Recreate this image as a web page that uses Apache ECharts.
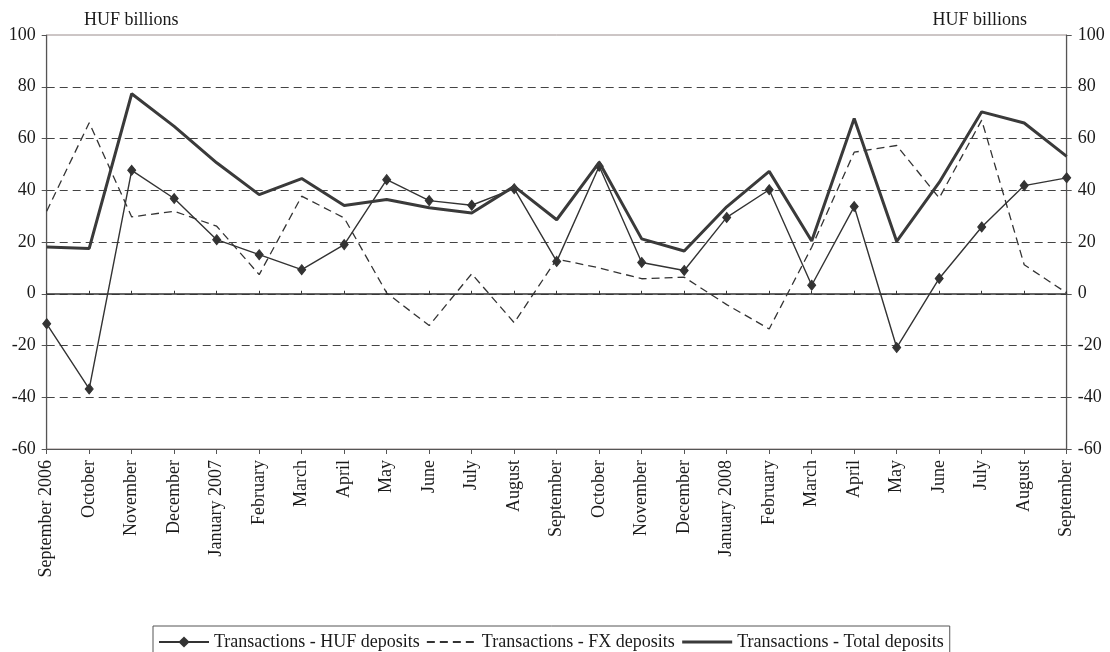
<!DOCTYPE html>
<html>
<head>
<meta charset="utf-8">
<script src="https://cdn.jsdelivr.net/npm/echarts@6/dist/echarts.min.js"></script>
<style>
html,body{margin:0;padding:0;background:#fff;}
#chart{width:1110px;height:652px;}
</style>
</head>
<body>
<div id="chart"></div>
<script>
const categories = ['September 2006','October','November','December','January 2007','February','March','April','May','June','July','August','September','October','November','December','January 2008','February','March','April','May','June','July','August','September'];
const hufDeposits = [-11.6, -36.8, 47.7, 36.8, 20.9, 15.1, 9.3, 19.0, 44.1, 36.0, 34.2, 40.6, 12.5, 49.3, 12.1, 9.0, 29.5, 40.2, 3.3, 33.7, -20.8, 5.9, 25.8, 41.8, 44.8];
const fxDeposits = [31.9, 66.1, 29.7, 31.9, 26.1, 7.4, 37.7, 29.3, 0.3, -12.3, 7.7, -11.2, 13.4, 10.0, 5.8, 6.4, -4.2, -13.6, 18.0, 54.7, 57.3, 37.0, 67.1, 11.2, 0.3];
const totalDeposits = [18.1, 17.5, 77.3, 64.7, 50.6, 38.3, 44.5, 34.1, 36.4, 33.2, 31.2, 41.5, 28.6, 50.8, 21.2, 16.5, 33.6, 47.3, 20.4, 67.7, 20.2, 43.0, 70.3, 66.0, 53.1];
const seriesNames = ['Transactions - HUF deposits', 'Transactions - FX deposits', 'Transactions - Total deposits'];
const unitLabel = 'HUF billions';

const FONT = "'Liberation Serif', 'Times New Roman', serif";
const TXT = '#1a1a1a';
const chart = echarts.init(document.getElementById('chart'), null, {renderer: 'canvas'});

const yAxisBase = {
  type: 'value', min: -60, max: 100, interval: 20,
  axisLine: {show: true, lineStyle: {color: '#555', width: 1.2}},
  axisTick: {show: true, length: 5, lineStyle: {color: '#555'}},
  axisLabel: {color: TXT, fontFamily: FONT, fontSize: 18, margin: 11}
};
const NOSYM = {color: 'rgba(0,0,0,0)', borderColor: 'rgba(0,0,0,0)', borderWidth: 0};

chart.setOption({
  animation: false,
  backgroundColor: '#fff',
  title: [
    {text: unitLabel, left: 79, top: 6, textStyle: {fontFamily: FONT, fontSize: 18, fontWeight: 'normal', color: TXT}},
    {text: unitLabel, right: 78, top: 6, textStyle: {fontFamily: FONT, fontSize: 18, fontWeight: 'normal', color: TXT}}
  ],
  grid: {left: 46.7, right: 43.3, top: 35, bottom: 203, show: true, borderColor: '#9a8c8c', borderWidth: 1, backgroundColor: 'transparent'},
  legend: {
    left: 153, top: 626,
    data: [
      {name: seriesNames[0]},
      {name: seriesNames[1], itemStyle: NOSYM},
      {name: seriesNames[2], itemStyle: NOSYM, lineStyle: {width: 3}}
    ],
    itemWidth: 50, itemHeight: 14, itemGap: 6,
    borderColor: '#555', borderWidth: 1,
    padding: [7, 6, 12, 5],
    textStyle: {fontFamily: FONT, fontSize: 18, color: TXT}
  },
  xAxis: [
    {
      type: 'category', data: categories, boundaryGap: false, position: 'bottom',
      axisLine: {onZero: false, lineStyle: {color: '#555', width: 1.2}},
      axisTick: {show: true, length: 5, interval: 0, lineStyle: {color: '#555'}},
      axisLabel: {rotate: 90, interval: 0, color: TXT, fontFamily: FONT, fontSize: 18, margin: 11},
      splitLine: {show: false}
    },
    {
      type: 'category', data: categories, boundaryGap: false, position: 'top',
      axisLine: {onZero: true, onZeroAxisIndex: 0, lineStyle: {color: '#333', width: 1.5}},
      axisTick: {show: true, length: 3, interval: 0, lineStyle: {color: '#333'}},
      axisLabel: {show: false},
      splitLine: {show: false}
    }
  ],
  yAxis: [
    Object.assign({}, yAxisBase, {
      position: 'left',
      splitLine: {show: true, showMinLine: false, showMaxLine: false, lineStyle: {color: '#444', width: 1, type: [8, 5]}}
    }),
    Object.assign({}, yAxisBase, {
      position: 'right',
      splitLine: {show: false}
    })
  ],
  series: [
    {
      name: seriesNames[0], type: 'line', data: hufDeposits, xAxisIndex: 0, yAxisIndex: 0,
      symbol: 'diamond', symbolSize: [8, 10], showAllSymbol: true,
      lineStyle: {color: '#333', width: 1.4},
      itemStyle: {color: '#333', borderColor: '#333'},
      z: 4
    },
    {
      name: seriesNames[1], type: 'line', data: fxDeposits, xAxisIndex: 0, yAxisIndex: 0,
      symbol: 'none',
      lineStyle: {color: '#333', width: 1.3, type: [8, 5]},
      itemStyle: NOSYM,
      z: 3
    },
    {
      name: seriesNames[2], type: 'line', data: totalDeposits, xAxisIndex: 0, yAxisIndex: 0,
      symbol: 'none',
      lineStyle: {color: '#3a3a3a', width: 3},
      itemStyle: NOSYM,
      z: 5
    }
  ]
});
</script>
</body>
</html>
